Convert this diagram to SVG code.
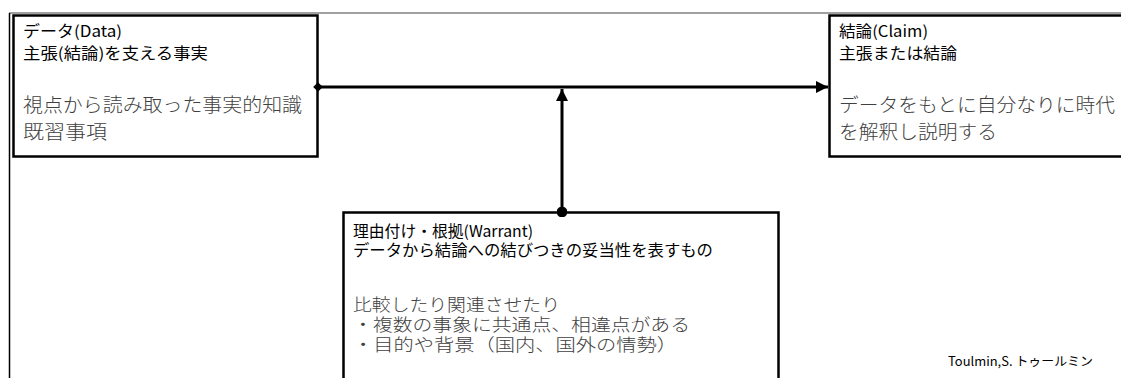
<svg xmlns="http://www.w3.org/2000/svg" width="1121" height="378" viewBox="0 0 1121 378">
<style>
.box{fill:#fff;stroke:#000;stroke-width:2.5}
.hd{font-family:"Noto Sans CJK JP","Noto Sans",sans-serif;font-size:15.5px;fill:#000}
.bd{font-family:"Noto Sans CJK JP","Noto Sans",sans-serif;font-size:19px;fill:#404040;font-weight:300}
.bs{font-family:"Noto Sans CJK JP","Noto Sans",sans-serif;font-size:17.5px;fill:#404040;font-weight:300}
.conn{stroke:#000;stroke-width:3;fill:none}
.note{font-family:"Noto Sans CJK JP","Noto Sans",sans-serif;font-size:12.5px;fill:#000}
</style>
<defs>
<marker id="arrow" viewBox="0 0 10 10" refX="10" refY="5" markerWidth="4" markerHeight="4" markerUnits="strokeWidth" orient="auto">
<path d="M0,0 L10,5 L0,10 z" fill="#000"/>
</marker>
<marker id="diamond" viewBox="0 0 10 10" refX="5" refY="5" markerWidth="3.2" markerHeight="3.2" markerUnits="strokeWidth" orient="auto">
<path d="M0,5 L5,0 L10,5 L5,10 z" fill="#000"/>
</marker>
<marker id="dot" viewBox="0 0 10 10" refX="5" refY="5" markerWidth="3.6" markerHeight="3.6" markerUnits="strokeWidth" orient="auto">
<circle cx="5" cy="5" r="5" fill="#000"/>
</marker>
</defs>
<rect width="1121" height="378" fill="#fff"/>
<g id="frame">
<line x1="9" y1="13" x2="1121" y2="13" stroke="#808080" stroke-width="1.5"/>
<line x1="9.5" y1="13" x2="9.5" y2="378" stroke="#000" stroke-width="1.5"/>
</g>
<g id="data">
<rect class="box" x="13.5" y="15.5" width="304" height="141"/>
<text class="hd" x="23" y="37" textLength="99" lengthAdjust="spacingAndGlyphs">データ(Data)</text>
<text class="hd" x="23" y="59" textLength="185" lengthAdjust="spacingAndGlyphs">主張(結論)を支える事実</text>
<text class="bd" x="23" y="112" textLength="279" lengthAdjust="spacingAndGlyphs">視点から読み取った事実的知識</text>
<text class="bd" x="23" y="139" textLength="84" lengthAdjust="spacingAndGlyphs">既習事項</text>
</g>
<g id="claim">
<rect class="box" x="829.5" y="15.5" width="300" height="141"/>
<text class="hd" x="839" y="37" textLength="89" lengthAdjust="spacingAndGlyphs">結論(Claim)</text>
<text class="hd" x="839" y="59" textLength="118" lengthAdjust="spacingAndGlyphs">主張または結論</text>
<text class="bd" x="839" y="112" textLength="276" lengthAdjust="spacingAndGlyphs">データをもとに自分なりに時代</text>
<text class="bd" x="839" y="139" textLength="158" lengthAdjust="spacingAndGlyphs">を解釈し説明する</text>
</g>
<g id="warrant">
<rect class="box" x="343.5" y="212.5" width="435" height="180"/>
<text class="hd" x="353" y="237" textLength="180" lengthAdjust="spacingAndGlyphs">理由付け・根拠(Warrant)</text>
<text class="hd" x="353" y="256" textLength="360" lengthAdjust="spacingAndGlyphs">データから結論への結びつきの妥当性を表すもの</text>
<text class="bs" x="353" y="311" textLength="207" lengthAdjust="spacingAndGlyphs">比較したり関連させたり</text>
<text class="bs" x="353" y="331" textLength="337" lengthAdjust="spacingAndGlyphs">・複数の事象に共通点、相違点がある</text>
<text class="bs" x="353" y="351" textLength="324" lengthAdjust="spacingAndGlyphs">・目的や背景（国内、国外の情勢）</text>
</g>
<g id="connectors">
<line class="conn" x1="318" y1="87" x2="828" y2="87" marker-start="url(#diamond)" marker-end="url(#arrow)"/>
<line class="conn" x1="562" y1="212" x2="562" y2="89" marker-start="url(#dot)" marker-end="url(#arrow)"/>
</g>
<g id="credit">
<text class="note" x="948" y="366" textLength="145" lengthAdjust="spacingAndGlyphs">Toulmin,S.  トゥールミン</text>
</g>
</svg>
